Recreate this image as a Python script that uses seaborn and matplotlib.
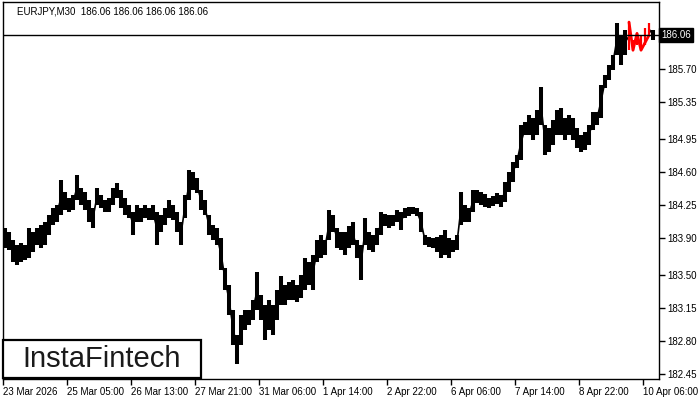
import numpy as np
import pandas as pd
import matplotlib
matplotlib.use('Agg')
import matplotlib.pyplot as plt
import seaborn as sns

# EURJPY M30, each entry = high/low over 4 bars (2 hours)
highs = [
    184.01, 183.96, 183.88, 183.82, 183.85, 183.82, 184.01, 183.96, 184.01, 184.04,
    184.07, 184.14, 184.22, 184.25, 184.52, 184.39, 184.33, 184.36, 184.57, 184.43,
    184.39, 184.30, 184.22, 184.43, 184.36, 184.30, 184.33, 184.43, 184.49, 184.41,
    184.33, 184.25, 184.18, 184.25, 184.22, 184.25, 184.22, 184.25, 184.18, 184.14,
    184.22, 184.30, 184.25, 184.18, 184.07, 184.36, 184.62, 184.60, 184.54, 184.41,
    184.30, 184.14, 184.04, 184.01, 183.90, 183.58, 183.40, 183.13, 182.87, 183.08,
    183.13, 183.13, 183.24, 183.54, 183.29, 183.19, 183.24, 183.19, 183.35, 183.49,
    183.40, 183.43, 183.45, 183.40, 183.50, 183.69, 183.64, 183.72, 183.88, 183.93,
    183.88, 184.20, 184.14, 184.01, 183.96, 183.96, 184.03, 184.07, 183.88, 183.82,
    184.11, 183.96, 183.93, 184.01, 184.18, 184.16, 184.14, 184.14, 184.20, 184.18,
    184.22, 184.23, 184.23, 184.22, 184.18, 183.93, 183.91, 183.90, 183.91, 183.93,
    183.98, 183.90, 183.88, 183.93, 184.39, 184.25, 184.22, 184.41, 184.41, 184.39,
    184.37, 184.33, 184.35, 184.38, 184.36, 184.50, 184.60, 184.71, 184.78, 185.10,
    185.14, 185.21, 185.18, 185.26, 185.51, 185.10, 185.07, 185.16, 185.26, 185.28,
    185.18, 185.21, 185.18, 185.07, 185.00, 185.03, 185.10, 185.24, 185.24, 185.53,
    185.64, 185.74, 185.85, 186.19, 186.06, 186.12, 186.20, 186.01, 186.08, 186.06,
    186.14, 186.19, 186.12,
]
lows = [
    183.79, 183.77, 183.64, 183.61, 183.64, 183.66, 183.69, 183.75, 183.82, 183.79,
    183.82, 183.93, 184.04, 184.07, 184.14, 184.20, 184.18, 184.20, 184.30, 184.25,
    184.20, 184.07, 184.01, 184.25, 184.22, 184.18, 184.18, 184.25, 184.33, 184.22,
    184.14, 184.11, 183.93, 184.07, 184.07, 184.11, 184.09, 184.09, 183.82, 183.96,
    184.04, 184.11, 184.09, 183.96, 183.82, 184.11, 184.30, 184.41, 184.38, 184.20,
    184.14, 183.93, 183.88, 183.82, 183.56, 183.35, 183.08, 182.76, 182.56, 182.76,
    182.92, 182.97, 183.03, 183.13, 183.03, 182.81, 182.92, 182.87, 183.03, 183.19,
    183.19, 183.24, 183.24, 183.22, 183.26, 183.35, 183.40, 183.35, 183.64, 183.69,
    183.72, 183.88, 183.96, 183.79, 183.77, 183.72, 183.79, 183.82, 183.69, 183.45,
    183.82, 183.77, 183.75, 183.82, 183.93, 184.03, 184.01, 184.03, 184.07, 183.98,
    184.11, 184.13, 184.16, 184.13, 183.96, 183.82, 183.80, 183.79, 183.75, 183.69,
    183.72, 183.69, 183.75, 183.77, 184.04, 184.07, 184.07, 184.18, 184.27, 184.25,
    184.23, 184.22, 184.24, 184.26, 184.23, 184.28, 184.39, 184.50, 184.65, 184.73,
    185.00, 185.00, 184.94, 185.00, 185.10, 184.78, 184.82, 184.89, 185.00, 185.00,
    184.94, 185.00, 184.94, 184.86, 184.82, 184.84, 184.89, 185.05, 185.10, 185.18,
    185.50, 185.58, 185.69, 185.85, 185.74, 185.85, 185.90, 185.90, 185.96, 185.90,
    185.96, 186.06, 186.01,
]
# buckets drawn in red (pattern highlight)
pattern = range(156, 162)

last_price = 186.06
header = "EURJPY,M30  186.06 186.06 186.06 186.06"

price_ticks = [185.70, 185.35, 184.95, 184.60, 184.25, 183.90, 183.50, 183.15, 182.80, 182.45]
date_ticks = [0, 64, 128, 192, 256, 320, 384, 448, 512, 576, 640]
date_labels = ["23 Mar 2026", "25 Mar 05:00", "26 Mar 13:00", "27 Mar 21:00",
               "31 Mar 06:00", "1 Apr 14:00", "2 Apr 22:00", "6 Apr 06:00",
               "7 Apr 14:00", "8 Apr 22:00", "10 Apr 06:00"]

df = pd.DataFrame({"high": highs, "low": lows})
df["bar"] = np.arange(len(df)) * 4 + 2
df["mid"] = (df["high"] + df["low"]) / 2
df["red"] = df.index.isin(list(pattern))

sns.set_theme(style="white")
plt.rcParams['font.family'] = ['Liberation Sans', 'DejaVu Sans']

fig = plt.figure(figsize=(7, 4), dpi=100)
ax = fig.add_axes([3 / 700, 21 / 400, 656 / 700, 377 / 400])

black = df[~df["red"]]
ax.vlines(black["bar"], black["low"], black["high"], color="black", linewidth=2.9)
sns.lineplot(data=df.iloc[:pattern[0] + 1], x="bar", y="mid", color="black", lw=1.2, ax=ax)
sns.lineplot(data=df.iloc[pattern[-1]:], x="bar", y="mid", color="black", lw=1.2, ax=ax)

# red zigzag: alternate highs and lows through the pattern buckets
rd = df[df["red"]]
zig = pd.DataFrame({
    "bar": rd["bar"].to_numpy(),
    "price": np.where(np.arange(len(rd)) % 2 == 0, rd["high"], rd["low"]),
})
zig = zig.drop(index=len(zig) - 2)
ax.vlines(rd["bar"], rd["low"], rd["high"], color="#ff0000", linewidth=1.6)
sns.lineplot(data=zig, x="bar", y="price", color="#ff0000", lw=2.0, ax=ax, sort=False)

ax.axhline(last_price, color="black", lw=1)

ax.set_xlim(0, 656)
ax.set_ylim(182.397, 186.414)
ax.set_xlabel("")
ax.set_ylabel("")

ax.yaxis.tick_right()
ax.set_yticks(price_ticks)
ax.set_yticklabels([f"{p:.2f}" for p in price_ticks])
ax.set_xticks(date_ticks)
ax.set_xticklabels(date_labels, ha="left")
ax.tick_params(axis="both", direction="out", length=4, width=1, color="black",
               labelsize=7, labelcolor="black", pad=2)
ax.tick_params(axis="y", right=True, left=False)
ax.tick_params(axis="x", bottom=True)
for s in ax.spines.values():
    s.set_color("black")
    s.set_linewidth(1)

# last price label on the axis
ax.text(1.003, last_price, f"{last_price:.2f}", transform=ax.get_yaxis_transform(),
        ha="left", va="center", color="white", fontsize=7,
        bbox=dict(boxstyle="square,pad=0.2", fc="black", ec="black"))

fig.text(17 / 700, 1 - 11 / 400, header, ha="left", va="center", fontsize=7, color="black")

# logo box
logo = plt.Rectangle((3 / 700, 22 / 400), 198 / 700, 38 / 400, transform=fig.transFigure,
                     fc="white", ec="black", lw=1.6, zorder=5)
fig.patches.append(logo)
fig.text(102 / 700, 41 / 400, "InstaFintech", ha="center", va="center",
         fontsize=21, color="#1a1a1a", zorder=6)

fig.savefig("out.png", dpi=100)
